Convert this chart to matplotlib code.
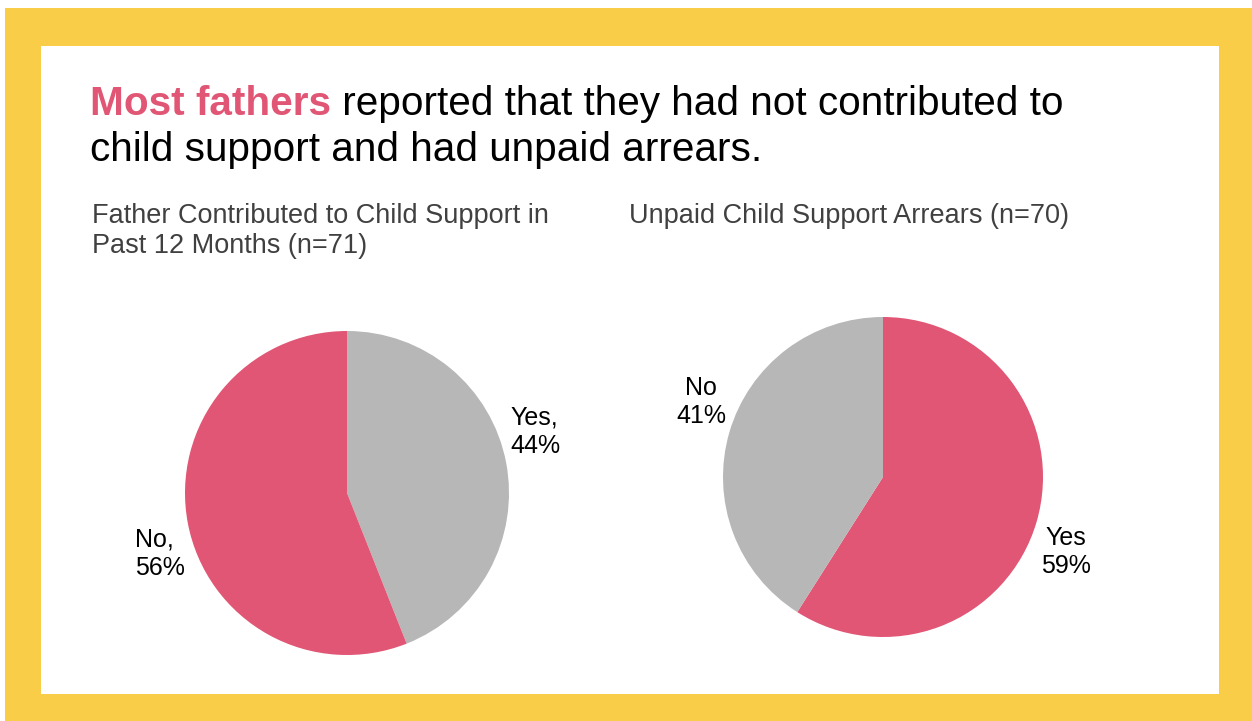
import matplotlib.pyplot as plt
from matplotlib.patches import Rectangle

plt.rcParams['font.family'] = ['Liberation Sans', 'DejaVu Sans']

W, H = 1252, 721

YELLOW = '#F9CD48'
PINK = '#E05674'
GRAY = '#B7B7B7'
SUB_GRAY = '#404040'

# contributed to child support in past 12 months (n=71)
support_labels = ['Yes', 'No']
support_pct = [44, 56]
support_colors = [GRAY, PINK]

# unpaid child support arrears (n=70)
arrears_labels = ['Yes', 'No']
arrears_pct = [59, 41]
arrears_colors = [PINK, GRAY]

title_bold = 'Most fathers'
title_rest = ' reported that they had not contributed to'
title_line2 = 'child support and had unpaid arrears.'
sub_left = ['Father Contributed to Child Support in', 'Past 12 Months (n=71)']
sub_right = ['Unpaid Child Support Arrears (n=70)']


def fx(px):
    return px / W


def fy(py):
    # pixel rows counted from the top
    return 1 - py / H


def lines(fig, x, y, rows, step, **kw):
    for i, r in enumerate(rows):
        fig.text(fx(x), fy(y + i * step), r, va='baseline', **kw)


fig = plt.figure(figsize=(W / 100, H / 100), dpi=100)
fig.patch.set_facecolor('white')

# yellow frame with white panel, kept behind the pies
fig.patches.append(Rectangle((fx(5), fy(721)), fx(1247), fy(8) - fy(721),
                             transform=fig.transFigure, facecolor=YELLOW, edgecolor='none', zorder=-2))
fig.patches.append(Rectangle((fx(41), fy(694)), fx(1219 - 41), fy(46) - fy(694),
                             transform=fig.transFigure, facecolor='white', edgecolor='none', zorder=-1))

# headline, first part bold pink
TS = 29.2
t1 = fig.text(fx(90), fy(115), title_bold, color=PINK, fontsize=TS, fontweight='bold', va='baseline')
fig.canvas.draw()
bb = t1.get_window_extent(renderer=fig.canvas.get_renderer())
fig.text(bb.x1 / W, fy(115), title_rest, color='black', fontsize=TS, va='baseline')
fig.text(fx(90), fy(161), title_line2, color='black', fontsize=TS, va='baseline')

lines(fig, 92, 223, sub_left, 30, color=SUB_GRAY, fontsize=19.5)
lines(fig, 629, 223, sub_right, 30, color=SUB_GRAY, fontsize=19.5)


def pie(cx, cy, r, vals, colors):
    ax = fig.add_axes([fx(cx - r), fy(cy + r), fx(2 * r), fy(cy - r) - fy(cy + r)])
    ax.pie(vals, colors=colors, startangle=90, counterclock=False,
           wedgeprops=dict(linewidth=0))
    ax.set_xlim(-1, 1)
    ax.set_ylim(-1, 1)
    ax.set_aspect('equal')
    ax.axis('off')
    return ax


pie(347, 493, 162, support_pct, support_colors)
pie(883, 477, 160, arrears_pct, arrears_colors)

lines(fig, 510, 425, [f'{support_labels[0]},', f'{support_pct[0]}%'], 28, fontsize=18)
lines(fig, 135, 547, [f'{support_labels[1]},', f'{support_pct[1]}%'], 28, fontsize=18)
lines(fig, 701, 395, [arrears_labels[1], f'{arrears_pct[1]}%'], 28, fontsize=18, ha='center')
lines(fig, 1066, 545, [arrears_labels[0], f'{arrears_pct[0]}%'], 28, fontsize=18, ha='center')

fig.savefig('out.png', dpi=100)
